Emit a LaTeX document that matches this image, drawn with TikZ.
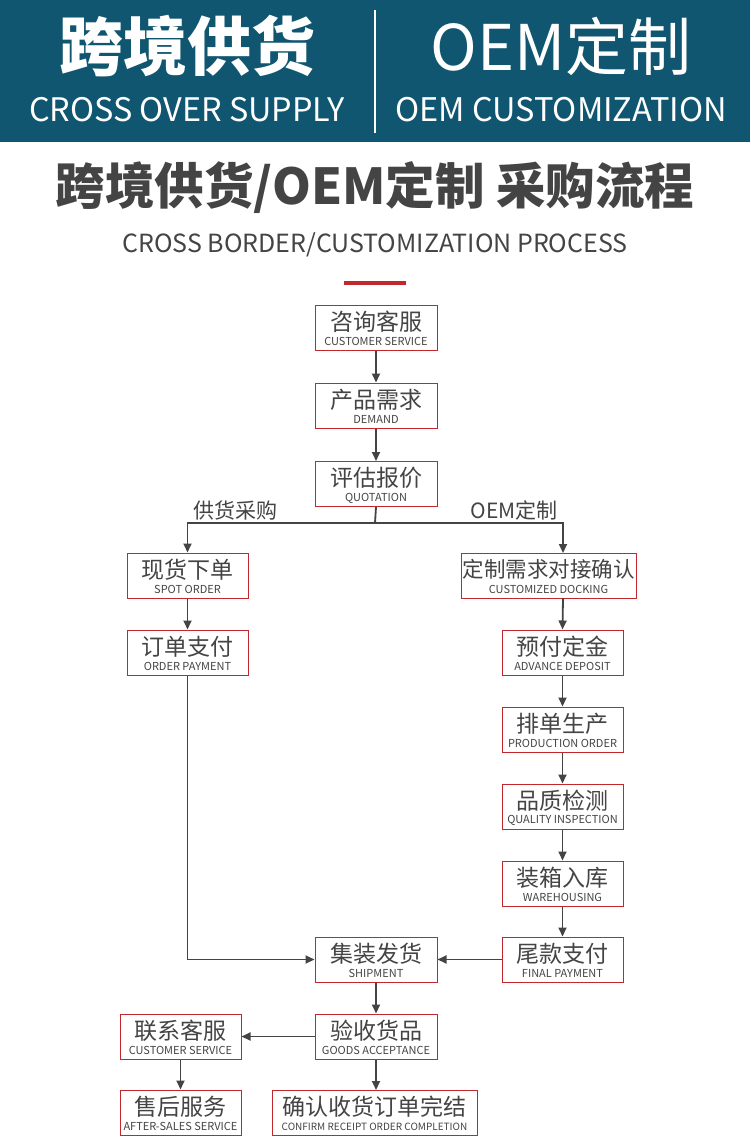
\documentclass[tikz,border=0pt]{standalone}
\usepackage{fontspec}
\setmainfont{Noto Sans CJK SC}
\usetikzlibrary{arrows.meta}
\definecolor{teal}{HTML}{105670}
\definecolor{bred}{HTML}{C0282D}
\definecolor{tx}{HTML}{444444}
\begin{document}
\begin{tikzpicture}[x=1pt,y=-1pt,
 box/.style={draw=bred,line width=1pt,fill=white,inner sep=0pt},
 ar/.style={draw=tx,line width=1.8pt,-{Triangle[length=9pt,width=8pt]}},
 ln/.style={draw=tx,line width=1.8pt}]
\useasboundingbox (0,0) rectangle (750,1147);
\fill[white] (0,0) rectangle (750,1147);
\fill[teal] (0,0) rectangle (750,142);
\draw[white,line width=1.6pt] (375,10) -- (375,133);
\node[white,font=\fontsize{64}{64}\selectfont\bfseries] (h1) at (187,46) {跨境供货};
\node[white,font=\fontsize{32.4}{32}\selectfont] (h2) at (187,110) {CROSS OVER SUPPLY};
\node[white,font=\fontsize{63}{63}\selectfont] (h3) at (561,46) {OEM定制};
\node[white,font=\fontsize{32.5}{32}\selectfont] (h4) at (561,110) {OEM CUSTOMIZATION};
\node[tx,font=\fontsize{49.5}{50}\selectfont\bfseries] (t1) at (375,188) {跨境供货/OEM定制 采购流程};
\node[tx,font=\fontsize{25}{25}\selectfont] (t2) at (375,245) {CROSS BORDER/CUSTOMIZATION PROCESS};
\fill[bred] (344,281) rectangle (406,285);
\newcommand\bx[6]{\node[box,minimum width=#4pt,minimum height=45pt] (#1) at (#2,#3) {};
 \node[tx,font=\fontsize{23}{23}\selectfont] at (#2,#3-6) {#5};
 \node[tx,font=\fontsize{11}{11}\selectfont] at (#2,#3+14) {#6};}
\bx{a}{376}{327.5}{122}{咨询客服}{CUSTOMER SERVICE}
\bx{b}{376}{405.5}{122}{产品需求}{DEMAND}
\bx{c}{376}{484}{122}{评估报价}{QUOTATION}
\bx{d}{187.5}{575.5}{121}{现货下单}{SPOT ORDER}
\bx{e}{187.5}{652.5}{121}{订单支付}{ORDER PAYMENT}
\bx{g}{562.5}{652.5}{121}{预付定金}{ADVANCE DEPOSIT}
\bx{h}{562.5}{729.5}{121}{排单生产}{PRODUCTION ORDER}
\bx{i}{562.5}{806.5}{121}{品质检测}{QUALITY INSPECTION}
\bx{j}{562.5}{883.5}{121}{装箱入库}{WAREHOUSING}
\bx{k}{562.5}{959.5}{121}{尾款支付}{FINAL PAYMENT}
\bx{l}{376}{959.5}{122}{集装发货}{SHIPMENT}
\bx{m}{376}{1036.5}{122}{验收货品}{GOODS ACCEPTANCE}
\bx{n}{180.5}{1036.5}{121}{联系客服}{CUSTOMER SERVICE}
\bx{o}{180.5}{1112.5}{121}{售后服务}{AFTER-SALES SERVICE}
\node[box,minimum width=175pt,minimum height=45pt] (f) at (548.5,575.5) {};
\node[tx,font=\fontsize{21.5}{22}\selectfont] at (548.5,569.5) {定制需求对接确认};
\node[tx,font=\fontsize{11}{11}\selectfont] at (548.5,589.5) {CUSTOMIZED DOCKING};
\node[box,minimum width=205pt,minimum height=45pt] (p) at (374.5,1112.5) {};
\node[tx,font=\fontsize{23}{23}\selectfont] at (374.5,1106.5) {确认收货订单完结};
\node[tx,font=\fontsize{10}{10}\selectfont] at (374.5,1126.5) {CONFIRM RECEIPT ORDER COMPLETION};
\draw[ar] (a) -- (b);
\draw[ar] (b) -- (c);
\coordinate (c1) at (375,523);
\draw[ln] (c.south) -- (c1);
\draw[ar] (c1) -| (d.north);
\draw[ar] (c1) -| (563,553);
\node[tx,font=\fontsize{21}{21}\selectfont] (lb1) at (235,510) {供货采购};
\node[tx,font=\fontsize{21}{21}\selectfont] (lb2) at (514,510) {OEM定制};
\draw[ar] (d) -- (e);
\draw[ar] (563,598) -- (g.north);
\draw[ar] (g) -- (h);
\draw[ar] (h) -- (i);
\draw[ar] (i) -- (j);
\draw[ar] (j) -- (k);
\draw[ar] (e.south) |- (l.west);
\draw[ar] (k) -- (l);
\draw[ar] (l) -- (m);
\draw[ar] (m) -- (n);
\draw[ar] (n) -- (o);
\draw[ar] (m.south) -- (376,1090);
\end{tikzpicture}
\end{document}
